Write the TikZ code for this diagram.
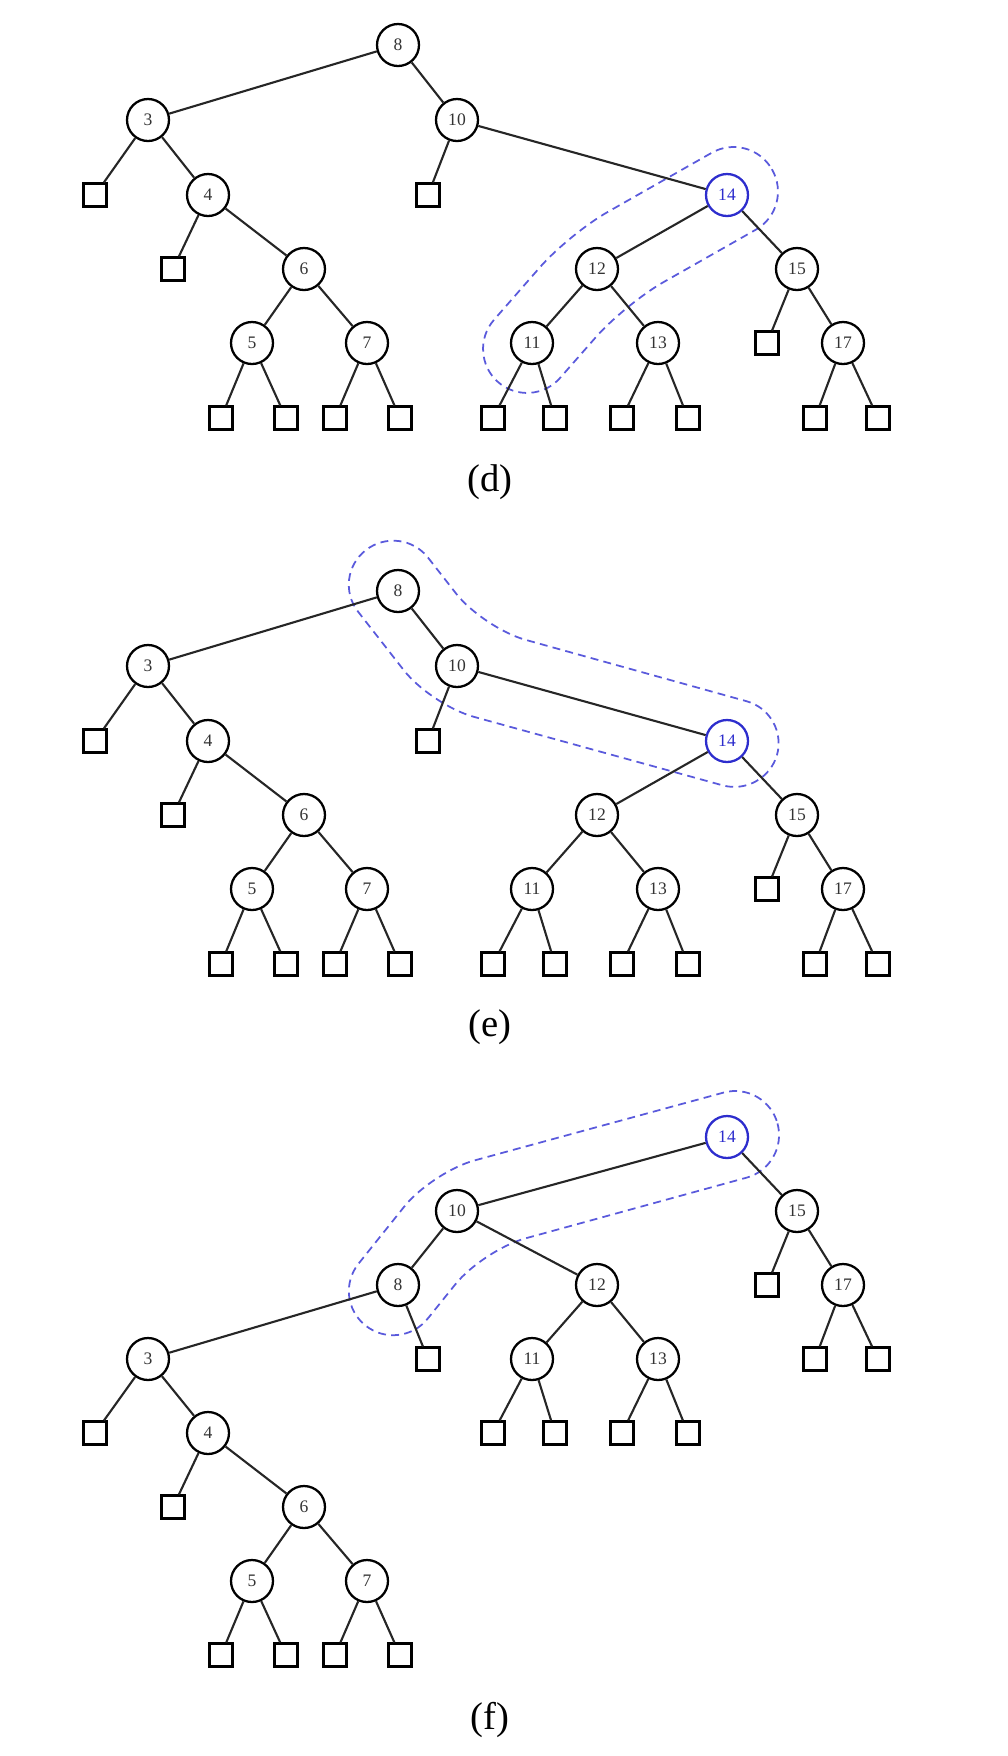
\documentclass[tikz,border=0pt]{standalone}
\usepackage{fontspec}
\setmainfont{Liberation Serif}
\usepackage{tikz}
\usepackage{xcolor}
\definecolor{hotblue}{RGB}{45,45,205}
\definecolor{hullblue}{RGB}{90,90,220}

\begin{document}
\begin{tikzpicture}[x=0.02cm, y=-0.02cm,
  key/.style={circle, draw, minimum size=0.84cm, inner sep=0pt, line width=1.3pt, fill=white, text=black!80, font=\fontsize{10}{12}\selectfont},
  hot/.style={key, draw=hotblue, text=hotblue},
  leaf/.style={rectangle, draw, minimum size=0.46cm, inner sep=0pt, line width=1.2pt, fill=white},
  edge/.style={line width=1.2pt, draw=black!85},
  hull/.style={draw=hullblue, line width=1pt, dash pattern=on 4.5pt off 3pt, rounded corners=0.88cm},
  caption/.style={font=\fontsize{22}{26}\selectfont}
]
\useasboundingbox (0,0) rectangle (1008,1756);

% (d): 14 with 12 and 11
\draw[hull] (750,131) -- (794,208) -- (625,304) -- (531,411) -- (465,353) -- (569,234) -- cycle;
\node[key] (d8) at (398,45) {8};
\node[key] (d3) at (148,120) {3};
\node[key] (d10) at (457,120) {10};
\node[leaf] (dl1) at (95,195) {};
\node[key] (d4) at (208,195) {4};
\node[leaf] (dl7) at (428,195) {};
\node[hot] (d14) at (727,195) {14};
\node[leaf] (dl2) at (173,269) {};
\node[key] (d6) at (304,269) {6};
\node[key] (d12) at (597,269) {12};
\node[key] (d15) at (797,269) {15};
\node[key] (d5) at (252,343) {5};
\node[key] (d7) at (367,343) {7};
\node[key] (d11) at (532,343) {11};
\node[key] (d13) at (658,343) {13};
\node[leaf] (dl12) at (767,343) {};
\node[key] (d17) at (843,343) {17};
\node[leaf] (dl3) at (221,418) {};
\node[leaf] (dl4) at (286,418) {};
\node[leaf] (dl5) at (335,418) {};
\node[leaf] (dl6) at (400,418) {};
\node[leaf] (dl8) at (493,418) {};
\node[leaf] (dl9) at (555,418) {};
\node[leaf] (dl10) at (622,418) {};
\node[leaf] (dl11) at (688,418) {};
\node[leaf] (dl13) at (815,418) {};
\node[leaf] (dl14) at (878,418) {};
\draw[edge] (d8) -- (d3);
\draw[edge] (d8) -- (d10);
\draw[edge] (d3) -- (dl1);
\draw[edge] (d3) -- (d4);
\draw[edge] (d4) -- (dl2);
\draw[edge] (d4) -- (d6);
\draw[edge] (d6) -- (d5);
\draw[edge] (d6) -- (d7);
\draw[edge] (d5) -- (dl3);
\draw[edge] (d5) -- (dl4);
\draw[edge] (d7) -- (dl5);
\draw[edge] (d7) -- (dl6);
\draw[edge] (d10) -- (dl7);
\draw[edge] (d10) -- (d14);
\draw[edge] (d14) -- (d12);
\draw[edge] (d14) -- (d15);
\draw[edge] (d12) -- (d11);
\draw[edge] (d12) -- (d13);
\draw[edge] (d11) -- (dl8);
\draw[edge] (d11) -- (dl9);
\draw[edge] (d13) -- (dl10);
\draw[edge] (d13) -- (dl11);
\draw[edge] (d15) -- (dl12);
\draw[edge] (d15) -- (d17);
\draw[edge] (d17) -- (dl13);
\draw[edge] (d17) -- (dl14);
\node[caption] (capd) at (490,482) {(d)};

% (e): 8, 10 and 14
\draw[hull] (401,523) -- (483,628) -- (789,713) -- (765,797) -- (431,705) -- (331,577) -- cycle;
\node[key] (e8) at (398,591) {8};
\node[key] (e3) at (148,666) {3};
\node[key] (e10) at (457,666) {10};
\node[leaf] (el1) at (95,741) {};
\node[key] (e4) at (208,741) {4};
\node[leaf] (el7) at (428,741) {};
\node[hot] (e14) at (727,741) {14};
\node[leaf] (el2) at (173,815) {};
\node[key] (e6) at (304,815) {6};
\node[key] (e12) at (597,815) {12};
\node[key] (e15) at (797,815) {15};
\node[key] (e5) at (252,889) {5};
\node[key] (e7) at (367,889) {7};
\node[key] (e11) at (532,889) {11};
\node[key] (e13) at (658,889) {13};
\node[leaf] (el12) at (767,889) {};
\node[key] (e17) at (843,889) {17};
\node[leaf] (el3) at (221,964) {};
\node[leaf] (el4) at (286,964) {};
\node[leaf] (el5) at (335,964) {};
\node[leaf] (el6) at (400,964) {};
\node[leaf] (el8) at (493,964) {};
\node[leaf] (el9) at (555,964) {};
\node[leaf] (el10) at (622,964) {};
\node[leaf] (el11) at (688,964) {};
\node[leaf] (el13) at (815,964) {};
\node[leaf] (el14) at (878,964) {};
\draw[edge] (e8) -- (e3);
\draw[edge] (e8) -- (e10);
\draw[edge] (e3) -- (el1);
\draw[edge] (e3) -- (e4);
\draw[edge] (e4) -- (el2);
\draw[edge] (e4) -- (e6);
\draw[edge] (e6) -- (e5);
\draw[edge] (e6) -- (e7);
\draw[edge] (e5) -- (el3);
\draw[edge] (e5) -- (el4);
\draw[edge] (e7) -- (el5);
\draw[edge] (e7) -- (el6);
\draw[edge] (e10) -- (el7);
\draw[edge] (e10) -- (e14);
\draw[edge] (e14) -- (e12);
\draw[edge] (e14) -- (e15);
\draw[edge] (e12) -- (e11);
\draw[edge] (e12) -- (e13);
\draw[edge] (e11) -- (el8);
\draw[edge] (e11) -- (el9);
\draw[edge] (e13) -- (el10);
\draw[edge] (e13) -- (el11);
\draw[edge] (e15) -- (el12);
\draw[edge] (e15) -- (e17);
\draw[edge] (e17) -- (el13);
\draw[edge] (e17) -- (el14);
\node[caption] (cape) at (490,1027) {(e)};

% (f): 14 on top
\draw[hull] (766,1081) -- (789,1166) -- (483,1250) -- (400,1353) -- (331,1298) -- (432,1172) -- cycle;
\node[hot] (f14) at (727,1137) {14};
\node[key] (f10) at (457,1211) {10};
\node[key] (f15) at (797,1211) {15};
\node[key] (f8) at (398,1285) {8};
\node[key] (f12) at (597,1285) {12};
\node[leaf] (fl1) at (767,1285) {};
\node[key] (f17) at (843,1285) {17};
\node[key] (f3) at (148,1359) {3};
\node[leaf] (fl2) at (428,1359) {};
\node[key] (f11) at (532,1359) {11};
\node[key] (f13) at (658,1359) {13};
\node[leaf] (fl3) at (815,1359) {};
\node[leaf] (fl4) at (878,1359) {};
\node[leaf] (fl5) at (95,1433) {};
\node[key] (f4) at (208,1433) {4};
\node[leaf] (fl6) at (493,1433) {};
\node[leaf] (fl7) at (555,1433) {};
\node[leaf] (fl8) at (622,1433) {};
\node[leaf] (fl9) at (688,1433) {};
\node[leaf] (fl10) at (173,1507) {};
\node[key] (f6) at (304,1507) {6};
\node[key] (f5) at (252,1581) {5};
\node[key] (f7) at (367,1581) {7};
\node[leaf] (fl11) at (221,1655) {};
\node[leaf] (fl12) at (286,1655) {};
\node[leaf] (fl13) at (335,1655) {};
\node[leaf] (fl14) at (400,1655) {};
\draw[edge] (f14) -- (f10);
\draw[edge] (f14) -- (f15);
\draw[edge] (f10) -- (f8);
\draw[edge] (f10) -- (f12);
\draw[edge] (f15) -- (fl1);
\draw[edge] (f15) -- (f17);
\draw[edge] (f8) -- (f3);
\draw[edge] (f8) -- (fl2);
\draw[edge] (f12) -- (f11);
\draw[edge] (f12) -- (f13);
\draw[edge] (f17) -- (fl3);
\draw[edge] (f17) -- (fl4);
\draw[edge] (f3) -- (fl5);
\draw[edge] (f3) -- (f4);
\draw[edge] (f11) -- (fl6);
\draw[edge] (f11) -- (fl7);
\draw[edge] (f13) -- (fl8);
\draw[edge] (f13) -- (fl9);
\draw[edge] (f4) -- (fl10);
\draw[edge] (f4) -- (f6);
\draw[edge] (f6) -- (f5);
\draw[edge] (f6) -- (f7);
\draw[edge] (f5) -- (fl11);
\draw[edge] (f5) -- (fl12);
\draw[edge] (f7) -- (fl13);
\draw[edge] (f7) -- (fl14);
\node[caption] (capf) at (490,1720) {(f)};
\end{tikzpicture}
\end{document}
